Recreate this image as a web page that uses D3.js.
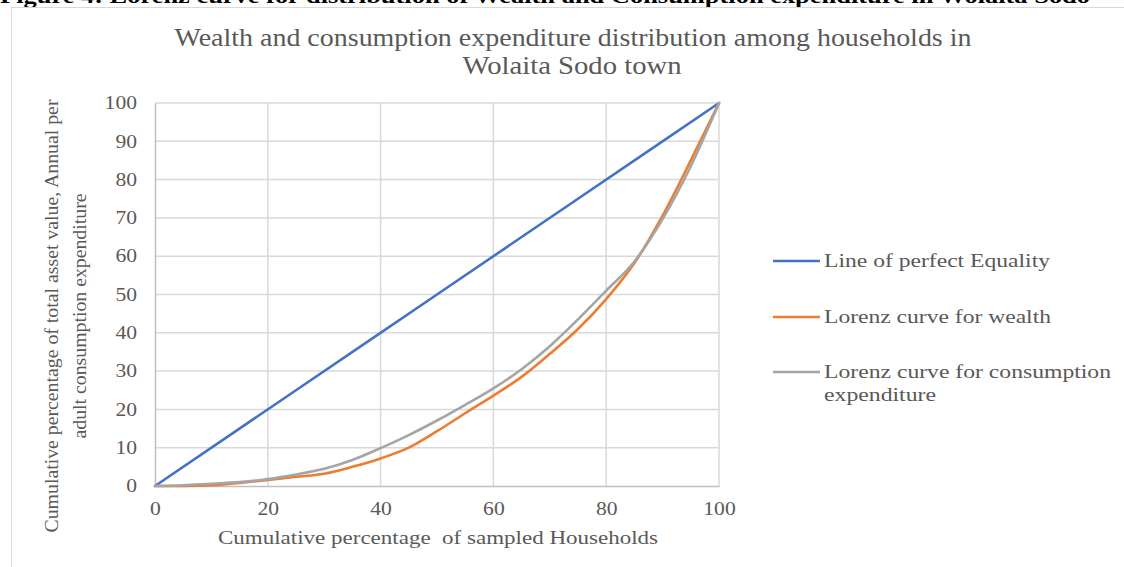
<!DOCTYPE html>
<html><head><meta charset="utf-8">
<script src="https://cdn.jsdelivr.net/npm/d3@7"></script>
<style>
html,body{margin:0;padding:0;background:#fff;}
svg{display:block;font-family:"Liberation Serif","Times New Roman",serif;}
</style></head>
<body>
<script>
// ---- data ----
const xPct = [0,5,10,15,20,25,30,35,40,45,50,55,60,65,70,75,80,85,90,95,100];
const wealth = [0,0,0.2,0.8,1.6,2.4,3.2,5.0,7.2,10.0,14.3,19.0,23.6,28.5,34.5,41,48.8,58.2,70.6,85,100];
const consumption = [0,0.2,0.6,1.0,1.8,3.0,4.5,6.8,9.9,13.3,17.1,21.2,25.5,30.5,36.5,43.5,51,58.6,69.7,83.5,100];
const equalityX = [0,25,50,75,100];
const equalityY = [0,25,50,75,100];
const xTicks = [0,20,40,60,80,100];
const yTicks = [0,10,20,30,40,50,60,70,80,90,100];
const seriesNames = ["Line of perfect Equality","Lorenz curve for wealth","Lorenz curve for consumption expenditure"];
const seriesColors = ["#4472C4","#ED7D31","#A5A5A5"];

const W = 1124, H = 567;
const svg = d3.select("body").append("svg").attr("width", W).attr("height", H);

function stretch(sel, f) {
  sel.each(function(){
    const L = this.getComputedTextLength();
    this.setAttribute("textLength", L * f);
    this.setAttribute("lengthAdjust", "spacingAndGlyphs");
  });
}

// caption (cut off at the top, as in the source)
svg.append("text").attr("x", 0).attr("y", 3)
  .attr("font-size", 22).attr("font-weight", "bold").attr("fill", "#000")
  .attr("textLength", 1090).attr("lengthAdjust", "spacingAndGlyphs")
  .text("Figure 4: Lorenz curve for distribution of Wealth and Consumption expenditure in Wolaita Sodo");

// chart frame
svg.append("rect").attr("x", 11.5).attr("y", 7.5).attr("width", W + 10).attr("height", H + 10)
  .attr("fill", "none").attr("stroke", "#d9d9d9").attr("stroke-width", 1);

const x = d3.scaleLinear().domain([0,100]).range([155,719]);
const y = d3.scaleLinear().domain([0,100]).range([486,103]);

// title
const title = svg.append("text").attr("text-anchor","middle").attr("fill","#595959").attr("font-size", 25);
title.append("tspan").attr("x", 573).attr("y", 46)
  .attr("textLength", 797).attr("lengthAdjust","spacingAndGlyphs")
  .text("Wealth and consumption expenditure distribution among households in");
title.append("tspan").attr("x", 572).attr("y", 74)
  .attr("textLength", 219).attr("lengthAdjust","spacingAndGlyphs")
  .text("Wolaita Sodo town");

// gridlines
const g = svg.append("g");
g.selectAll(".hg").data(yTicks.slice(1)).join("line")
  .attr("x1", x(0)).attr("x2", x(100)).attr("y1", d=>y(d)).attr("y2", d=>y(d))
  .attr("stroke", "#d9d9d9").attr("stroke-width", 1.5);
g.selectAll(".vg").data(xTicks.slice(1)).join("line")
  .attr("x1", d=>x(d)).attr("x2", d=>x(d)).attr("y1", y(0)).attr("y2", y(100))
  .attr("stroke", "#d9d9d9").attr("stroke-width", 1.5);

// axes
const xAxis = svg.append("g").attr("transform", `translate(0,${y(0)})`)
  .call(d3.axisBottom(x).tickValues(xTicks).tickSize(0).tickPadding(16));
xAxis.select(".domain").attr("stroke", "#bfbfbf").attr("stroke-width", 1.5);
xAxis.selectAll("text").attr("font-size", 18).attr("fill", "#595959").attr("font-family", "Liberation Serif");
stretch(xAxis.selectAll("text"), 1.2);

const yAxis = svg.append("g").attr("transform", `translate(${x(0)},0)`)
  .call(d3.axisLeft(y).tickValues(yTicks).tickSize(0).tickPadding(18));
yAxis.select(".domain").attr("stroke", "#bfbfbf").attr("stroke-width", 1.5);
yAxis.selectAll("text").attr("font-size", 18).attr("fill", "#595959").attr("font-family", "Liberation Serif");
stretch(yAxis.selectAll("text"), 1.2);

// axis titles
svg.append("text").attr("x", 438).attr("y", 544).attr("text-anchor","middle")
  .attr("font-size", 19).attr("fill", "#595959").attr("xml:space","preserve")
  .attr("textLength", 440).attr("lengthAdjust","spacingAndGlyphs")
  .text("Cumulative percentage  of sampled Households");
const yt = svg.append("text").attr("transform","translate(0,316) rotate(-90)")
  .attr("text-anchor","middle").attr("font-size", 19).attr("fill","#595959");
yt.append("tspan").attr("x",0).attr("y",58)
  .attr("textLength", 433).attr("lengthAdjust","spacingAndGlyphs")
  .text("Cumulative percentage of total asset value, Annual per");
yt.append("tspan").attr("x",0).attr("y",86)
  .attr("textLength", 245).attr("lengthAdjust","spacingAndGlyphs")
  .text("adult consumption expenditure");

// lines
const line = d3.line().x(d=>x(d[0])).y(d=>y(d[1])).curve(d3.curveMonotoneX);
const series = [
  d3.zip(equalityX, equalityY),
  d3.zip(xPct, wealth),
  d3.zip(xPct, consumption)
];
svg.selectAll(".s").data(series).join("path")
  .attr("d", line).attr("fill","none")
  .attr("stroke", (d,i)=>seriesColors[i]).attr("stroke-width", 2.6)
  .attr("stroke-linejoin","round").attr("stroke-linecap","round");

// legend
const legY = [261, 317, 372];
const legLen = [[226],[227],[287,112]];
const legLines = [["Line of perfect Equality"],["Lorenz curve for wealth"],["Lorenz curve for consumption","expenditure"]];
const lg = svg.append("g");
seriesNames.forEach((n,i)=>{
  lg.append("line").attr("x1",773).attr("x2",820).attr("y1",legY[i]).attr("y2",legY[i])
    .attr("stroke", seriesColors[i]).attr("stroke-width", 2.6);
  const t = lg.append("text").attr("x",824).attr("y",legY[i]+6).attr("font-size",19)
    .attr("fill","#595959");
  legLines[i].forEach((s,j)=>{
    t.append("tspan").attr("x",824).attr("dy", j ? 23 : 0)
      .attr("textLength", legLen[i][j]).attr("lengthAdjust","spacingAndGlyphs").text(s);
  });
});
</script>
</body></html>
